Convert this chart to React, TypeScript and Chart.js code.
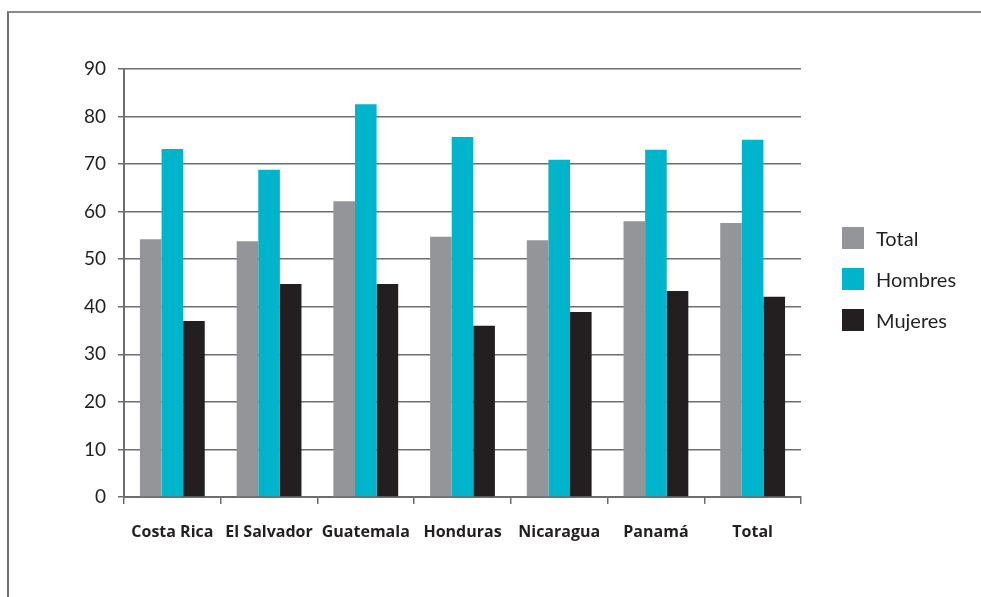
import React, { useEffect, useRef } from "react";
import { Chart, registerables } from "chart.js";

Chart.register(...registerables);

const categories = ["Costa Rica", "El Salvador", "Guatemala", "Honduras", "Nicaragua", "Panamá", "Total"];
const totalValues = [54.2, 53.8, 62.2, 54.7, 54.0, 58.0, 57.6];
const hombresValues = [73.2, 68.8, 82.6, 75.7, 70.9, 73.0, 75.1];
const mujeresValues = [37.0, 44.8, 44.8, 36.0, 38.9, 43.3, 42.1];
const seriesNames = ["Total", "Hombres", "Mujeres"];
const seriesColors = ["#939598", "#00b4cc", "#231f20"];

const FONT = "Lato, 'Open Sans', sans-serif";
const BOLD_FONT = "'Open Sans', Lato, sans-serif";

const legendPlugin = {
  id: "customLegend",
  afterDraw(chart: any) {
    const ctx = chart.ctx;
    ctx.save();
    const startY = 238;
    const step = 41;
    chart.data.datasets.forEach((ds: any, i: number) => {
      const cy = startY + i * step;
      ctx.fillStyle = ds.backgroundColor;
      ctx.fillRect(842, cy - 11, 22, 22);
      ctx.fillStyle = "#231f20";
      ctx.font = `20px ${FONT}`;
      ctx.textBaseline = "middle";
      ctx.textAlign = "left";
      ctx.fillText(ds.label, 876, cy + 2);
    });
    ctx.restore();
  },
};

export default function App() {
  const ref = useRef<HTMLCanvasElement | null>(null);
  useEffect(() => {
    document.body.style.margin = "0";
    if (!ref.current) return;
    const chart = new Chart(ref.current, {
      type: "bar",
      data: {
        labels: categories,
        datasets: [
          { label: seriesNames[0], data: totalValues, backgroundColor: seriesColors[0] },
          { label: seriesNames[1], data: hombresValues, backgroundColor: seriesColors[1] },
          { label: seriesNames[2], data: mujeresValues, backgroundColor: seriesColors[2] },
        ],
      },
      options: {
        responsive: false,
        animation: false,
        layout: { padding: { left: 0, right: 180, top: 69, bottom: 0 } },
        datasets: { bar: { categoryPercentage: 0.67, barPercentage: 1.0 } },
        plugins: { legend: { display: false }, tooltip: { enabled: false } },
        scales: {
          x: {
            afterFit(scale: any) {
              scale.height = 100;
            },
            grid: {
              drawOnChartArea: false,
              drawTicks: true,
              tickLength: 7,
              offset: true,
              color: "#6d6e71",
              lineWidth: 1.5,
            },
            border: { display: true, color: "#6d6e71", width: 2 },
            ticks: {
              color: "#231f20",
              font: { family: BOLD_FONT, size: 16, weight: "bold" },
              padding: 19,
              maxRotation: 0,
              autoSkip: false,
            },
          },
          y: {
            min: 0,
            max: 90,
            afterFit(scale: any) {
              scale.width = 124;
            },
            grid: {
              color: "#6d6e71",
              lineWidth: 1.5,
              tickLength: 6,
            },
            border: { display: true, color: "#6d6e71", width: 2 },
            ticks: {
              stepSize: 10,
              color: "#231f20",
              font: { family: FONT, size: 19 },
              padding: 12,
            },
          },
        },
      },
      plugins: [legendPlugin],
    });
    return () => chart.destroy();
  }, []);

  return (
    <div style={{ position: "fixed", left: 0, top: 0, width: 981, height: 597, overflow: "hidden", background: "#fff" }}>
      <div
        style={{
          position: "absolute",
          left: 7,
          top: 11,
          width: 1200,
          height: 800,
          borderLeft: "2px solid #6d6e71",
          borderTop: "2px solid #8a8b8d",
        }}
      />
      <canvas ref={ref} width={981} height={597} style={{ position: "absolute", left: 0, top: 0 }} />
    </div>
  );
}
